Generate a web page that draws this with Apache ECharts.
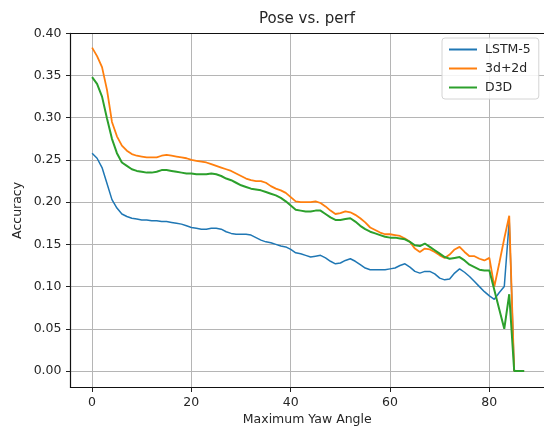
<!DOCTYPE html>
<html>
<head>
<meta charset="utf-8">
<script src="https://cdn.jsdelivr.net/npm/echarts@6/dist/echarts.min.js"></script>
<style>
  html, body { margin: 0; padding: 0; background: #fff; }
  #chart { width: 544px; height: 426px; }
</style>
</head>
<body>
<div id="chart"></div>
<script>
// ---- data ----
const angles = [0,1,2,3,4,5,6,7,8,9,10,11,12,13,14,15,16,17,18,19,20,21,22,23,24,25,26,27,28,29,
  30,31,32,33,34,35,36,37,38,39,40,41,42,43,44,45,46,47,48,49,50,51,52,53,54,55,56,57,58,59,
  60,61,62,63,64,65,66,67,68,69,70,71,72,73,74,75,76,77,78,79,80,81,82,83,84,85,86,87];

const lstm5 = [0.258,0.252,0.241,0.222,0.203,0.193,0.186,0.183,0.181,0.180,
  0.179,0.179,0.178,0.178,0.177,0.177,0.176,0.175,0.174,0.172,
  0.170,0.169,0.168,0.168,0.169,0.169,0.168,0.165,0.163,0.162,
  0.162,0.162,0.161,0.158,0.155,0.153,0.152,0.150,0.148,0.147,
  0.144,0.140,0.139,0.137,0.135,0.136,0.137,0.134,0.130,0.127,
  0.128,0.131,0.133,0.130,0.126,0.122,0.120,0.120,0.120,0.120,
  0.121,0.122,0.125,0.127,0.123,0.118,0.116,0.118,0.118,0.115,
  0.110,0.108,0.109,0.116,0.121,0.117,0.112,0.106,0.100,0.094,
  0.089,0.085,0.093,0.100,0.178,0.000,0.000,0.000];

const d3d2d = [0.383,0.373,0.360,0.333,0.295,0.278,0.267,0.261,0.257,0.255,
  0.254,0.253,0.253,0.253,0.255,0.256,0.255,0.254,0.253,0.252,
  0.250,0.249,0.248,0.247,0.245,0.243,0.241,0.239,0.237,0.234,
  0.231,0.228,0.226,0.225,0.225,0.223,0.219,0.216,0.214,0.211,
  0.206,0.201,0.200,0.200,0.200,0.201,0.199,0.195,0.190,0.186,
  0.187,0.189,0.188,0.185,0.181,0.176,0.170,0.167,0.164,0.162,
  0.162,0.161,0.160,0.157,0.153,0.145,0.141,0.145,0.144,0.141,
  0.137,0.134,0.138,0.144,0.147,0.141,0.136,0.136,0.133,0.131,
  0.134,0.100,0.128,0.157,0.184,0.000,0.000,0.000];

const d3d = [0.348,0.340,0.325,0.299,0.275,0.258,0.247,0.243,0.239,0.237,
  0.236,0.235,0.235,0.236,0.238,0.238,0.237,0.236,0.235,0.234,
  0.234,0.233,0.233,0.233,0.234,0.233,0.231,0.228,0.226,0.223,
  0.220,0.218,0.216,0.215,0.214,0.212,0.210,0.208,0.205,0.201,
  0.196,0.191,0.190,0.189,0.189,0.190,0.190,0.186,0.182,0.179,
  0.179,0.180,0.181,0.177,0.172,0.168,0.165,0.163,0.161,0.159,
  0.158,0.158,0.157,0.156,0.153,0.149,0.148,0.151,0.147,0.143,
  0.139,0.135,0.133,0.134,0.135,0.131,0.126,0.123,0.120,0.119,
  0.119,0.096,0.073,0.050,0.091,0.000,0.000,0.000];

const seriesNames = ['LSTM-5', '3d+2d', 'D3D'];
const xTicks = [0, 20, 40, 60, 80];
const yTicks = [0.00, 0.05, 0.10, 0.15, 0.20, 0.25, 0.30, 0.35, 0.40];

// ---- chart ----
const FONT = 'DejaVu Sans';
const TXT = '#262626';
const GRIDC = '#b5b5b5';
const pairs = arr => angles.map((a, i) => [a, arr[i]]);

const chart = echarts.init(document.getElementById('chart'), null, { renderer: 'canvas' });

const L = 70.5, T = 33.3, B = 38.5;
const frameLine = { show: true, onZero: false, lineStyle: { color: '#111', width: 1.2 } };

chart.setOption({
  animation: false,
  backgroundColor: '#ffffff',
  textStyle: { fontFamily: FONT },
  graphic: [{
    type: 'text', x: 307, y: 19, z: 10,
    style: { text: 'Pose vs. perf', font: '15px "DejaVu Sans"', fill: TXT, align: 'center', verticalAlign: 'middle' }
  }],
  legend: {
    data: seriesNames,
    orient: 'vertical',
    left: 442, top: 38,
    itemWidth: 28, itemHeight: 14, itemGap: 6,
    padding: [5, 8, 5, 6],
    borderColor: '#d4d4d4', borderWidth: 1, borderRadius: 3,
    backgroundColor: 'rgba(255,255,255,0.85)',
    itemStyle: { color: 'rgba(0,0,0,0)', borderWidth: 0, opacity: 0 },
    textStyle: { fontFamily: FONT, fontSize: 12.5, color: TXT, padding: [0, 0, 0, 3] },
    z: 20
  },
  grid: [
    { left: L, right: 0, top: T, bottom: B, outerBoundsMode: 'none', containLabel: false },
    { left: L, right: 0, top: T, bottom: 55, outerBoundsMode: 'none', containLabel: false },
    { left: 92, right: 54.7, top: T, bottom: B, outerBoundsMode: 'none', containLabel: false }
  ],
  xAxis: [
    { // main frame bottom
      type: 'value', gridIndex: 0, min: -4.35, max: 91.0, position: 'bottom',
      axisLine: frameLine,
      axisTick: { show: false }, axisLabel: { show: false }, splitLine: { show: false },
      name: 'Maximum Yaw Angle', nameLocation: 'middle', nameGap: 26,
      nameTextStyle: { fontFamily: FONT, fontSize: 12.5, color: TXT }
    },
    { // main frame top
      type: 'value', gridIndex: 0, min: -4.35, max: 91.0, position: 'top',
      axisLine: frameLine,
      axisTick: { show: false }, axisLabel: { show: false }, splitLine: { show: false }
    },
    { type: 'value', gridIndex: 1, min: 0, max: 1, show: false },
    { // x ticks, labels and vertical grid lines
      type: 'value', gridIndex: 2, min: xTicks[0], max: xTicks[xTicks.length - 1], interval: 20,
      position: 'bottom',
      axisLine: { show: false, onZero: false },
      axisTick: { show: true, inside: false, length: 4.5, lineStyle: { color: '#222', width: 1 } },
      axisLabel: { show: true, margin: 9, fontFamily: FONT, fontSize: 12.5, color: TXT },
      splitLine: { show: true, lineStyle: { color: GRIDC, width: 1 } }
    }
  ],
  yAxis: [
    { // main frame left
      type: 'value', gridIndex: 0, min: -0.0195, max: 0.40, position: 'left',
      axisLine: frameLine,
      axisTick: { show: false }, axisLabel: { show: false }, splitLine: { show: false },
      name: 'Accuracy', nameLocation: 'middle', nameGap: 46, nameRotate: 90,
      nameTextStyle: { fontFamily: FONT, fontSize: 12.5, color: TXT }
    },
    { // y ticks, labels and horizontal grid lines
      type: 'value', gridIndex: 1, min: yTicks[0], max: yTicks[yTicks.length - 1], interval: 0.05,
      position: 'left',
      axisLine: { show: false, onZero: false },
      axisTick: { show: true, inside: false, length: 4.5, lineStyle: { color: '#222', width: 1 } },
      axisLabel: { show: true, margin: 9, fontFamily: FONT, fontSize: 12.5, color: TXT,
        formatter: v => v.toFixed(2) },
      splitLine: { show: true, lineStyle: { color: GRIDC, width: 1 } }
    },
    { type: 'value', gridIndex: 2, min: 0, max: 1, show: false }
  ],
  series: [
    { name: seriesNames[0], type: 'line', xAxisIndex: 0, yAxisIndex: 0, data: pairs(lstm5),
      symbol: 'none', showSymbol: false, color: '#1f77b4',
      lineStyle: { color: '#1f77b4', width: 1.5 }, z: 3 },
    { name: seriesNames[1], type: 'line', xAxisIndex: 0, yAxisIndex: 0, data: pairs(d3d2d),
      symbol: 'none', showSymbol: false, color: '#ff7f0e',
      lineStyle: { color: '#ff7f0e', width: 1.8 }, z: 4 },
    { name: seriesNames[2], type: 'line', xAxisIndex: 0, yAxisIndex: 0, data: pairs(d3d),
      symbol: 'none', showSymbol: false, color: '#2ca02c',
      lineStyle: { color: '#2ca02c', width: 2.0 }, z: 5 }
  ]
});
</script>
</body>
</html>
